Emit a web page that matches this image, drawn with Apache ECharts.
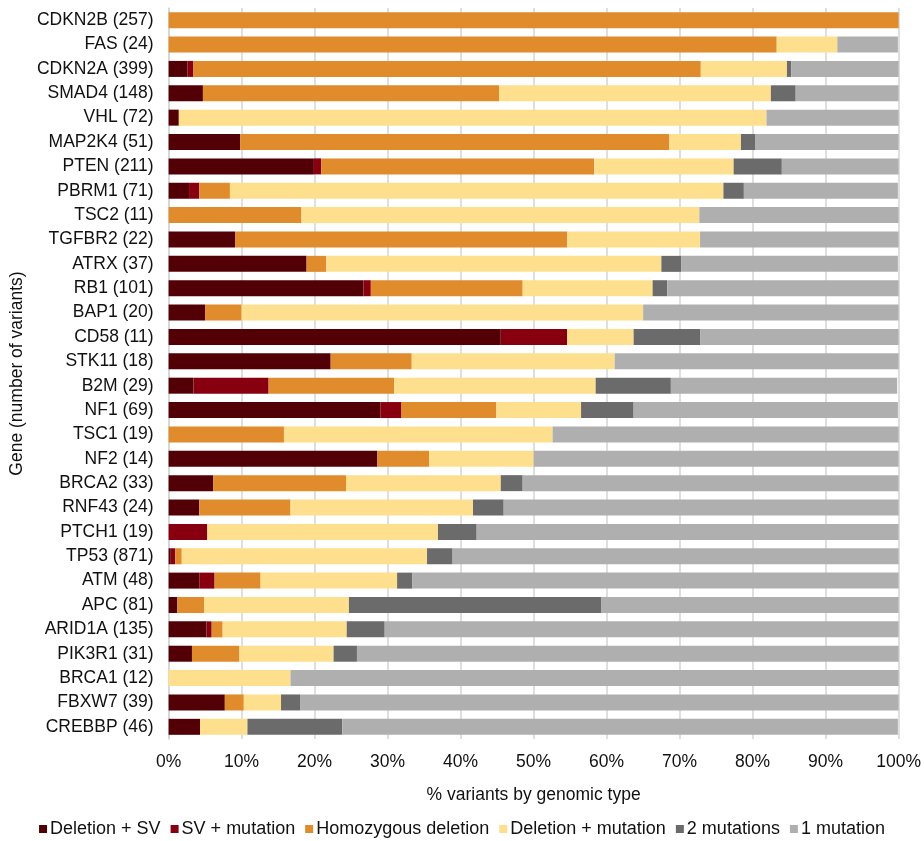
<!DOCTYPE html>
<html>
<head>
<meta charset="utf-8">
<script src="https://cdn.jsdelivr.net/npm/echarts@6/dist/echarts.min.js"></script>
<style>
  html, body { margin: 0; padding: 0; background: #ffffff; }
  #chart { width: 924px; height: 841px; }
</style>
</head>
<body>
<div id="chart"></div>
<script>
// Genes with number of variants, top to bottom
var genes = ['CDKN2B (257)', 'FAS (24)', 'CDKN2A (399)', 'SMAD4 (148)', 'VHL (72)', 'MAP2K4 (51)',
  'PTEN (211)', 'PBRM1 (71)', 'TSC2 (11)', 'TGFBR2 (22)', 'ATRX (37)', 'RB1 (101)', 'BAP1 (20)',
  'CD58 (11)', 'STK11 (18)', 'B2M (29)', 'NF1 (69)', 'TSC1 (19)', 'NF2 (14)', 'BRCA2 (33)',
  'RNF43 (24)', 'PTCH1 (19)', 'TP53 (871)', 'ATM (48)', 'APC (81)', 'ARID1A (135)', 'PIK3R1 (31)',
  'BRCA1 (12)', 'FBXW7 (39)', 'CREBBP (46)'];

// Percent of variants per genomic type, same order as genes
var deletionSV = [0, 0, 2.6, 4.7, 1.4, 9.8, 19.9, 2.8, 0, 9.1, 18.9, 26.7, 5, 45.5, 22.2, 3.4, 29.0, 0, 28.6, 6.1,
  4.2, 0, 0.3, 4.2, 1.2, 5.2, 3.2, 0, 7.7, 4.3];
var svMutation = [0, 0, 0.8, 0, 0, 0, 1.0, 1.4, 0, 0, 0, 1.0, 0, 9.1, 0, 10.3, 2.9, 0, 0, 0,
  0, 5.3, 0.6, 2.1, 0, 0.7, 0, 0, 0, 0];
var homozygousDeletion = [100, 83.3, 69.5, 40.6, 0, 58.8, 37.4, 4.2, 18.2, 45.5, 2.7, 20.8, 5, 0, 11.1, 17.2, 13.0, 15.8, 7.1, 18.2,
  12.5, 0, 0.9, 6.3, 3.7, 1.5, 6.5, 0, 2.6, 0];
var deletionMutation = [0, 8.3, 11.8, 37.2, 80.5, 9.8, 19.1, 67.6, 54.5, 18.2, 45.9, 17.8, 55, 9.1, 27.8, 27.6, 11.6, 36.8, 14.3, 21.2,
  25, 31.6, 33.6, 18.7, 19.8, 17.0, 12.9, 16.7, 5.1, 6.5];
var twoMutations = [0, 0, 0.6, 3.4, 0, 2.0, 6.6, 2.8, 0, 0, 2.7, 2.0, 0, 9.1, 0, 10.3, 7.2, 0, 0, 3.0,
  4.2, 5.3, 3.5, 2.1, 34.6, 5.2, 3.2, 0, 2.6, 13.0];
var oneMutation = [0, 8.3, 14.7, 14.2, 18.1, 19.6, 16.1, 21.1, 27.3, 27.3, 29.7, 31.7, 35, 27.3, 38.9, 31.0, 36.2, 47.4, 50, 51.5,
  54.2, 57.9, 61.1, 66.7, 40.7, 70.4, 74.2, 83.3, 82.0, 76.1];

var seriesNames = ['Deletion + SV', 'SV + mutation', 'Homozygous deletion', 'Deletion + mutation', '2 mutations', '1 mutation'];
var seriesValues = [deletionSV, svMutation, homozygousDeletion, deletionMutation, twoMutations, oneMutation];
var seriesColors = ['#520006', '#88000f', '#e08b2c', '#fddf8d', '#6b6b6b', '#afafaf'];

var font = 'Liberation Sans, Arial, sans-serif';

var chart = echarts.init(document.getElementById('chart'), null, { renderer: 'canvas' });

chart.setOption({
  backgroundColor: '#ffffff',
  animation: false,
  grid: { left: 168, right: 25, top: 8, bottom: 102, containLabel: false },
  legend: {
    top: 815,
    left: 'center',
    itemWidth: 8,
    itemHeight: 8,
    itemGap: 10,
    icon: 'rect',
    textStyle: { fontFamily: font, fontSize: 18, color: '#111111', padding: [0, 0, 0, -2] },
    data: seriesNames
  },
  xAxis: {
    type: 'value',
    min: 0,
    max: 100,
    interval: 10,
    name: '% variants by genomic type',
    nameLocation: 'middle',
    nameGap: 47,
    nameTextStyle: { fontFamily: font, fontSize: 17.5, color: '#111111' },
    axisLabel: { formatter: '{value}%', fontFamily: font, fontSize: 17.5, color: '#111111', margin: 14 },
    axisLine: { show: false },
    axisTick: { show: false },
    splitLine: { show: true, lineStyle: { color: '#d4d4d4', width: 1.5 } }
  },
  yAxis: {
    type: 'category',
    inverse: true,
    data: genes,
    name: 'Gene (number of variants)',
    nameLocation: 'middle',
    nameGap: 140,
    nameRotate: 90,
    nameTextStyle: { fontFamily: font, fontSize: 17.5, color: '#111111' },
    axisLabel: { fontFamily: font, fontSize: 17.5, color: '#111111', margin: 15 },
    axisLine: { show: true, lineStyle: { color: '#d4d4d4', width: 1.5 } },
    axisTick: { show: false }
  },
  series: seriesNames.map(function (name, i) {
    return {
      name: name,
      type: 'bar',
      stack: 'total',
      barWidth: 16,
      itemStyle: { color: seriesColors[i] },
      emphasis: { disabled: true },
      data: seriesValues[i]
    };
  })
});
</script>
</body>
</html>
